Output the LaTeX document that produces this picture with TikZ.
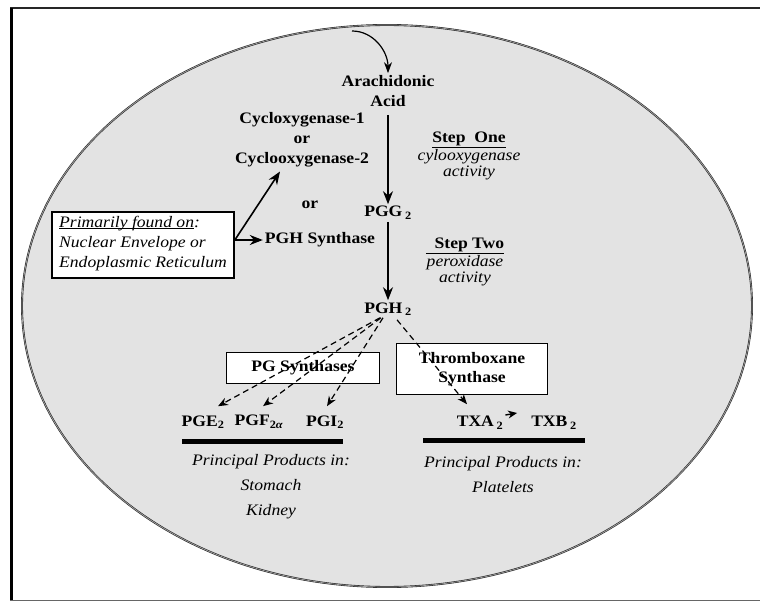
\documentclass[tikz,border=0pt]{standalone}
\usepackage{fontspec}
\setmainfont{Liberation Serif}[FakeStretch=1.1]
\usetikzlibrary{calc,arrows.meta,positioning}
\tikzstyle{compound} = [inner sep=2pt, align=center, font=\bfseries\fontsize{16}{20}\selectfont]
\tikzstyle{note} = [inner sep=2pt, align=center, font=\itshape\fontsize{16}{25}\selectfont]
\tikzstyle{stepnote} = [inner sep=1pt, align=center, font=\fontsize{16}{16.5}\selectfont]
\tikzstyle{synthase} = [rectangle, draw=black, line width=1pt, fill=white, align=center, font=\bfseries\fontsize{16}{19}\selectfont]
\tikzstyle{locbox} = [rectangle, draw=black, line width=2pt, fill=white, align=left, inner xsep=7pt, inner ysep=8pt, font=\itshape\fontsize{16}{20}\selectfont]
\tikzstyle{flow} = [line width=1.6pt, -{Stealth[length=13pt,width=10pt]}]
\tikzstyle{dflow} = [line width=1.2pt, dash pattern=on 6pt off 4pt, -{Stealth[length=10pt,width=8pt]}]
\tikzstyle{bar} = [line width=5pt]

\begin{document}
\begin{tikzpicture}[x=1pt, y=1pt, node distance=96pt]
	\useasboundingbox (0,0) rectangle (760,-601);

	% frame and cell
	\draw[line width=2.5pt, black!85] (10,-8) -- (760,-8);
	\draw[line width=3pt] (11,-8) -- (11,-600);
	\draw[line width=0.8pt, black!60] (10,-600) -- (760,-600);
	\draw[fill=black!11, draw=black!85, line width=0.6pt, double=black!35, double distance=0.7pt] (387,-306) ellipse [x radius=365, y radius=281];

	\node (acid) [compound] at (388,-91) {Arachidonic\\Acid};
	\node (pgg) [compound, below of=acid, yshift=-26pt] {PGG\,\textsubscript{2}};
	\node (pgh) [compound, below of=pgg] {PGH\,\textsubscript{2}};

	\node (step1) [stepnote] at (469,-156) {\textbf{\underline{Step\ \ One}}\\\textit{cylooxygenase}\\\textit{activity}};
	\node (step2) [stepnote] at (465,-262) {\textbf{\underline{\ \ Step Two}}\\\textit{peroxidase}\\\textit{activity}};

	\node (cox) [compound] at (302,-140) {Cycloxygenase-1\\or\\Cyclooxygenase-2};
	\node (or) [compound] at (310,-205) {or};
	\node (pghs) [compound] at (320,-240) {PGH Synthase};
	\node (loc) [locbox] at (143,-245) {\underline{\smash{Primarily found on}}:\\Nuclear Envelope or\\Endoplasmic Reticulum};

	\node (pgsyn) [synthase, minimum width=153pt, minimum height=30pt] at (303,-368) {PG Synthases};
	\node (txsyn) [synthase, minimum width=151pt, minimum height=50pt] at (472,-369) {Thromboxane\\Synthase};

	\node (pge) [compound] at (203,-422) {PGE\textsubscript{2}};
	\node (pgf) [compound] at (259,-422) {PGF\textsubscript{2\textit{α}}};
	\node (pgi) [compound] at (325,-422) {PGI\textsubscript{2}};
	\node (txa) [compound] at (480,-423) {TXA\,\textsubscript{2}};
	\node (txb) [compound] at (554,-423) {TXB\,\textsubscript{2}};

	\draw[bar] (182,-441) -- (343,-441);
	\draw[bar] (423,-440) -- (585,-440);
	\node (prod1) [note] at (271,-487) {Principal Products\ in:\\Stomach\\Kidney};
	\node (prod2) [note] at (503,-475) {Principal Products in:\\Platelets};

	\coordinate (entry) at (352,-31);
	\draw[flow, line width=1.2pt, -{Stealth[length=11pt,width=8pt]}] (entry) to[out=0, in=90] (acid.north);
	\draw[flow, shorten <=6pt] (acid) -- (pgg);
	\draw[flow] (pgg) -- (pgh);
	\draw[flow] (loc.east |- pghs.west) -- (pghs.west);
	\draw[flow] (loc.east |- pghs.west) -- ([xshift=-22pt,yshift=-2pt]cox.south);

	\draw[dflow] ([xshift=-8pt]pgh.south) -- ([xshift=15pt,yshift=7pt]pge.north);
	\draw[dflow] ([xshift=-7pt]pgh.south) -- ([xshift=4pt,yshift=7pt]pgf.north);
	\draw[dflow] ([xshift=-5pt]pgh.south) -- ([xshift=2pt,yshift=7pt]pgi.north);
	\draw[dflow] ([xshift=9pt,yshift=-2pt]pgh.south) -- ([xshift=-13pt,yshift=10pt]txa.north);
	\draw[flow, line width=1.4pt, -{Stealth[length=9pt,width=8pt]}] ([xshift=0pt,yshift=8pt]txa.east) -- ([xshift=-12pt,yshift=10pt]txb.west);
\end{tikzpicture}
\end{document}
